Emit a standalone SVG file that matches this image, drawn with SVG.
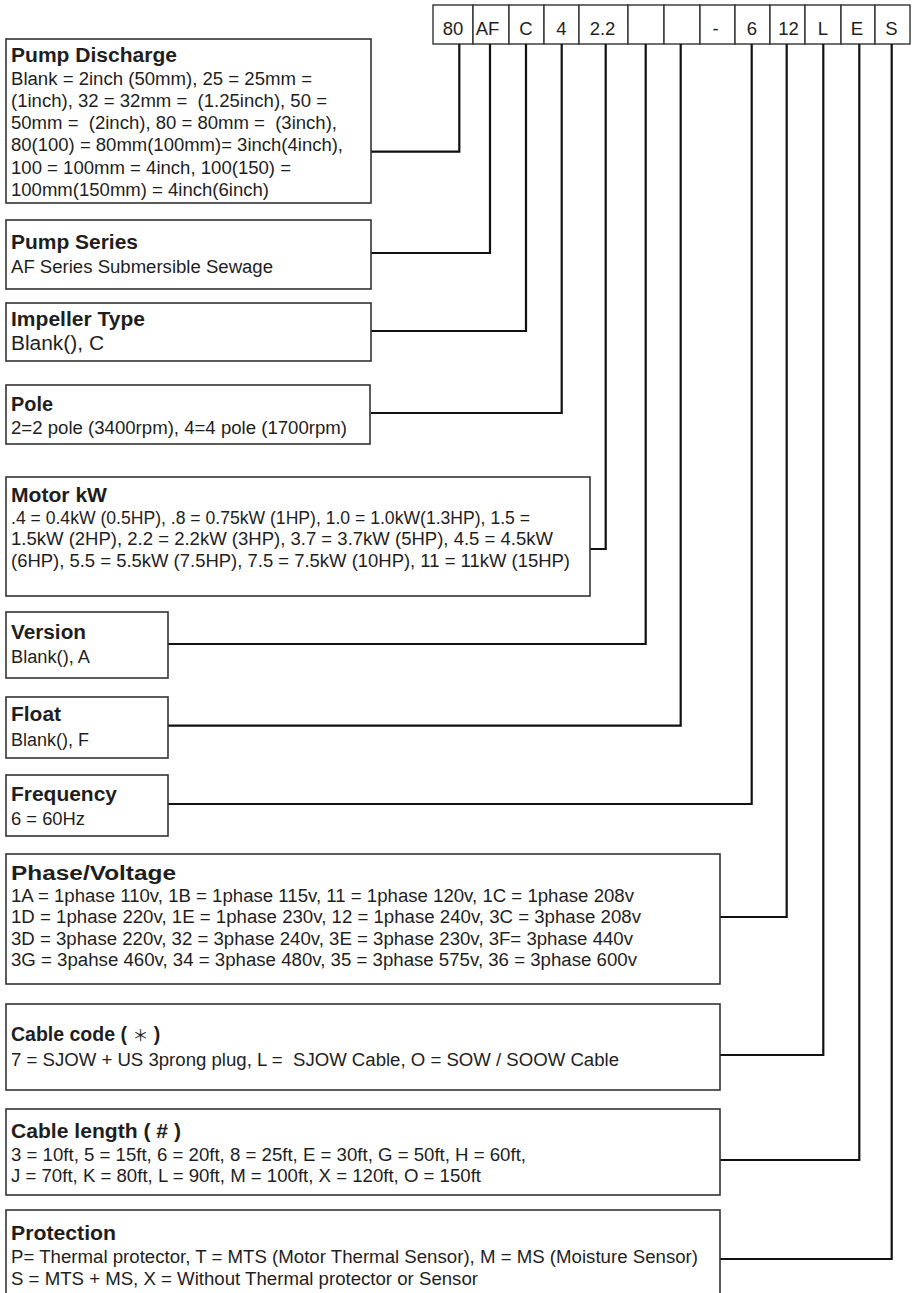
<svg xmlns="http://www.w3.org/2000/svg" width="912" height="1293" viewBox="0 0 912 1293" xml:space="preserve">
<style>
.box{fill:#fff;stroke:#333;stroke-width:1.6}
.cell{fill:#fff;stroke:#333;stroke-width:1.4}
.t{font-family:"Liberation Sans",Arial,"Noto Sans CJK SC",sans-serif;font-size:19.5px;font-weight:bold;fill:#1e1e1e;white-space:pre}
.b{font-family:"Liberation Sans",Arial,sans-serif;font-size:18px;fill:#1e1e1e;white-space:pre}
.c{font-family:"Liberation Sans",Arial,sans-serif;font-size:18.5px;fill:#1e1e1e;text-anchor:middle}
.star{font-family:"Noto Sans CJK SC",sans-serif;font-weight:normal;font-size:16px}
.conn{fill:none;stroke:#111;stroke-width:2.2}
</style>
<rect width="912" height="1293" fill="#fff"/>
<g id="code">
<rect class="cell" x="433" y="5" width="40" height="39"/>
<rect class="cell" x="473" y="5" width="36" height="39"/>
<rect class="cell" x="509" y="5" width="35" height="39"/>
<rect class="cell" x="544" y="5" width="35" height="39"/>
<rect class="cell" x="579" y="5" width="49" height="39"/>
<rect class="cell" x="628" y="5" width="36" height="39"/>
<rect class="cell" x="664" y="5" width="36" height="39"/>
<rect class="cell" x="700" y="5" width="35" height="39"/>
<rect class="cell" x="735" y="5" width="35" height="39"/>
<rect class="cell" x="770" y="5" width="35" height="39"/>
<rect class="cell" x="805" y="5" width="36" height="39"/>
<rect class="cell" x="841" y="5" width="34" height="39"/>
<rect class="cell" x="875" y="5" width="35" height="39"/>
<text class="c" x="453" y="35">80</text>
<text class="c" x="487.5" y="35">AF</text>
<text class="c" x="526" y="35">C</text>
<text class="c" x="561.5" y="35">4</text>
<text class="c" x="602.5" y="35">2.2</text>
<text class="c" x="715.5" y="35">-</text>
<text class="c" x="752" y="35">6</text>
<text class="c" x="788.5" y="35">12</text>
<text class="c" x="823" y="35">L</text>
<text class="c" x="857" y="35">E</text>
<text class="c" x="891.5" y="35">S</text>
</g>
<g id="connectors">
<path class="conn" d="M371,151.7H459.3V44"/>
<path class="conn" d="M371,253H490V44"/>
<path class="conn" d="M371,331H526V44"/>
<path class="conn" d="M371,413H561.7V44"/>
<path class="conn" d="M590,549H605.7V44"/>
<path class="conn" d="M168,644H645.7V44"/>
<path class="conn" d="M168,725.7H680.7V44"/>
<path class="conn" d="M168,804H751.7V44"/>
<path class="conn" d="M720,917H786.7V44"/>
<path class="conn" d="M720,1055H823.3V44"/>
<path class="conn" d="M720,1160H859.3V44"/>
<path class="conn" d="M720,1259H891.7V44"/>
</g>
<g id="pump-discharge">
<rect class="box" x="6" y="39" width="365" height="164"/>
<text class="t" x="11" y="61.5" textLength="166" lengthAdjust="spacingAndGlyphs">Pump Discharge</text>
<text class="b" x="11" y="84.5" textLength="301" lengthAdjust="spacingAndGlyphs">Blank = 2inch (50mm), 25 = 25mm =</text>
<text class="b" x="11" y="106.8" textLength="316" lengthAdjust="spacingAndGlyphs">(1inch), 32 = 32mm =  (1.25inch), 50 =</text>
<text class="b" x="11" y="129.1" textLength="326" lengthAdjust="spacingAndGlyphs">50mm =  (2inch), 80 = 80mm =  (3inch),</text>
<text class="b" x="11" y="151.4" textLength="332" lengthAdjust="spacingAndGlyphs">80(100) = 80mm(100mm)= 3inch(4inch),</text>
<text class="b" x="11" y="173.7" textLength="280" lengthAdjust="spacingAndGlyphs">100 = 100mm = 4inch, 100(150) =</text>
<text class="b" x="11" y="196" textLength="258" lengthAdjust="spacingAndGlyphs">100mm(150mm) = 4inch(6inch)</text>
</g>
<g id="pump-series">
<rect class="box" x="6" y="220" width="365" height="69"/>
<text class="t" x="11" y="249" textLength="127" lengthAdjust="spacingAndGlyphs">Pump Series</text>
<text class="b" x="11" y="273" textLength="262" lengthAdjust="spacingAndGlyphs">AF Series Submersible Sewage</text>
</g>
<g id="impeller-type">
<rect class="box" x="6" y="303" width="365" height="58"/>
<text class="t" x="11" y="326" textLength="134" lengthAdjust="spacingAndGlyphs">Impeller Type</text>
<text class="b" x="11" y="350" style="font-size:20px" textLength="93" lengthAdjust="spacingAndGlyphs">Blank(), C</text>
</g>
<g id="pole">
<rect class="box" x="6" y="385" width="364" height="59"/>
<text class="t" x="11" y="411" textLength="42" lengthAdjust="spacingAndGlyphs">Pole</text>
<text class="b" x="11" y="434" textLength="336" lengthAdjust="spacingAndGlyphs">2=2 pole (3400rpm), 4=4 pole (1700rpm)</text>
</g>
<g id="motor-kw">
<rect class="box" x="6" y="477" width="584" height="119"/>
<text class="t" x="11" y="502" textLength="96" lengthAdjust="spacingAndGlyphs">Motor kW</text>
<text class="b" x="11" y="523.5" textLength="519" lengthAdjust="spacingAndGlyphs">.4 = 0.4kW (0.5HP), .8 = 0.75kW (1HP), 1.0 = 1.0kW(1.3HP), 1.5 =</text>
<text class="b" x="11" y="545" textLength="542" lengthAdjust="spacingAndGlyphs">1.5kW (2HP), 2.2 = 2.2kW (3HP), 3.7 = 3.7kW (5HP), 4.5 = 4.5kW</text>
<text class="b" x="11" y="566.5" textLength="559" lengthAdjust="spacingAndGlyphs">(6HP), 5.5 = 5.5kW (7.5HP), 7.5 = 7.5kW (10HP), 11 = 11kW (15HP)</text>
</g>
<g id="version">
<rect class="box" x="6" y="612" width="162" height="66"/>
<text class="t" x="11" y="639" textLength="75" lengthAdjust="spacingAndGlyphs">Version</text>
<text class="b" x="11" y="663" textLength="79" lengthAdjust="spacingAndGlyphs">Blank(), A</text>
</g>
<g id="float">
<rect class="box" x="6" y="697" width="162" height="61"/>
<text class="t" x="11" y="721" textLength="50" lengthAdjust="spacingAndGlyphs">Float</text>
<text class="b" x="11" y="746" textLength="78" lengthAdjust="spacingAndGlyphs">Blank(), F</text>
</g>
<g id="frequency">
<rect class="box" x="6" y="775" width="162" height="61"/>
<text class="t" x="11" y="801" textLength="106" lengthAdjust="spacingAndGlyphs">Frequency</text>
<text class="b" x="11" y="825" textLength="74" lengthAdjust="spacingAndGlyphs">6 = 60Hz</text>
</g>
<g id="phase-voltage">
<rect class="box" x="6" y="854" width="714" height="130"/>
<text class="t" x="11" y="880" textLength="165" lengthAdjust="spacingAndGlyphs">Phase/Voltage</text>
<text class="b" x="11" y="901.5" textLength="623" lengthAdjust="spacingAndGlyphs">1A = 1phase 110v, 1B = 1phase 115v, 11 = 1phase 120v, 1C = 1phase 208v</text>
<text class="b" x="11" y="923" textLength="630" lengthAdjust="spacingAndGlyphs">1D = 1phase 220v, 1E = 1phase 230v, 12 = 1phase 240v, 3C = 3phase 208v</text>
<text class="b" x="11" y="944.5" textLength="622" lengthAdjust="spacingAndGlyphs">3D = 3phase 220v, 32 = 3phase 240v, 3E = 3phase 230v, 3F= 3phase 440v</text>
<text class="b" x="11" y="966" textLength="626" lengthAdjust="spacingAndGlyphs">3G = 3pahse 460v, 34 = 3phase 480v, 35 = 3phase 575v, 36 = 3phase 600v</text>
</g>
<g id="cable-code">
<rect class="box" x="6" y="1004" width="714" height="86"/>
<text class="t" x="11" y="1041">Cable code ( <tspan class="star">＊</tspan> )</text>
<text class="b" x="11" y="1066" textLength="608" lengthAdjust="spacingAndGlyphs">7 = SJOW + US 3prong plug, L =  SJOW Cable, O = SOW / SOOW Cable</text>
</g>
<g id="cable-length">
<rect class="box" x="6" y="1109" width="714" height="86"/>
<text class="t" x="11" y="1138" textLength="170" lengthAdjust="spacingAndGlyphs">Cable length ( # )</text>
<text class="b" x="11" y="1161" textLength="515" lengthAdjust="spacingAndGlyphs">3 = 10ft, 5 = 15ft, 6 = 20ft, 8 = 25ft, E = 30ft, G = 50ft, H = 60ft,</text>
<text class="b" x="11" y="1182" textLength="470" lengthAdjust="spacingAndGlyphs">J = 70ft, K = 80ft, L = 90ft, M = 100ft, X = 120ft, O = 150ft</text>
</g>
<g id="protection">
<rect class="box" x="6" y="1210" width="714" height="95"/>
<text class="t" x="11" y="1240" textLength="105" lengthAdjust="spacingAndGlyphs">Protection</text>
<text class="b" x="11" y="1263" textLength="687" lengthAdjust="spacingAndGlyphs">P= Thermal protector, T = MTS (Motor Thermal Sensor), M = MS (Moisture Sensor)</text>
<text class="b" x="11" y="1285" textLength="467" lengthAdjust="spacingAndGlyphs">S = MTS + MS, X = Without Thermal protector or Sensor</text>
</g>
</svg>
